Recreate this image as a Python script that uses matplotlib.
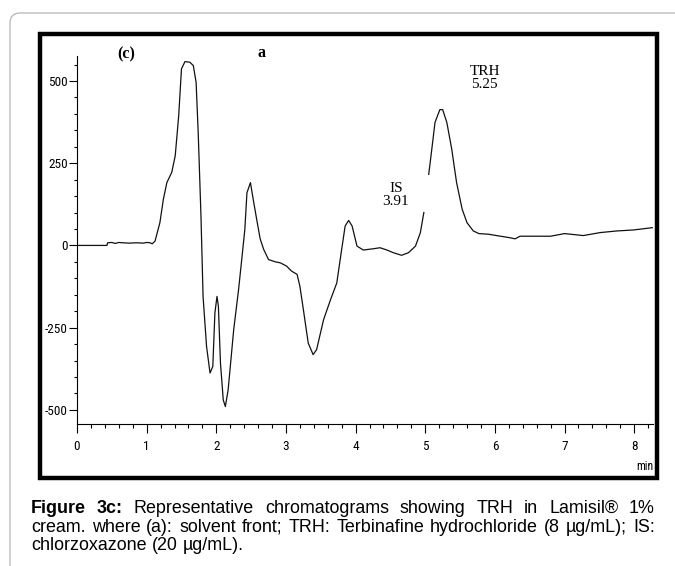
import matplotlib
matplotlib.use("Agg")
import matplotlib.pyplot as plt
import numpy as np
from matplotlib.patches import FancyBboxPatch, Rectangle
from matplotlib.transforms import IdentityTransform
from matplotlib.ticker import MultipleLocator
from matplotlib import font_manager

# chromatogram trace (min, mAU); NaN marks the break near the IS label
time_min = [0.00, 0.43, 0.44, 0.50, 0.55, 0.60, 0.66, 0.75, 0.85, 0.95, 1.00, 1.05, 1.08,
            1.12, 1.19, 1.24, 1.29, 1.36, 1.41, 1.46, 1.50, 1.55, 1.62, 1.67, 1.71, 1.74,
            1.78, 1.81, 1.86, 1.91, 1.95, 1.98, 2.01, 2.03, 2.06, 2.10, 2.13, 2.17, 2.25,
            2.32, 2.37, 2.41, 2.44, 2.49, 2.53, 2.58, 2.63, 2.68, 2.75, 2.85, 2.92, 3.01,
            3.08, 3.16, 3.20, 3.25, 3.32, 3.39, 3.44, 3.54, 3.64, 3.73, 3.80, 3.85, 3.90,
            3.95, 4.02, 4.11, 4.26, 4.35, 4.45, 4.54, 4.66, 4.76, 4.86, 4.93, 4.98, 5.01,
            5.05, 5.10, 5.14, 5.21, 5.25, 5.31, 5.38, 5.45, 5.53, 5.60, 5.69, 5.77, 5.91,
            6.08, 6.20, 6.29, 6.36, 6.56, 6.80, 7.00, 7.27, 7.51, 7.75, 7.99, 8.26]
signal = [0, 0, 8, 9, 6, 9, 8, 7, 8, 7, 9, 8, 5,
          13, 69, 140, 191, 222, 272, 394, 537, 559, 557, 547, 496, 344,
          89, -155, -307, -388, -368, -205, -155, -185, -358, -470, -490, -439, -256,
          -134, -33, 49, 160, 191, 140, 79, 20, -12, -43, -50, -53, -63,
          -78, -88, -124, -195, -297, -332, -317, -226, -165, -114, -12, 59, 76,
          59, -2, -14, -10, -7, -14, -22, -30, -22, -2, 39, 100, np.nan,
          216, 303, 374, 413, 413, 374, 293, 191, 110, 69, 44, 36, 34,
          28, 24, 20, 28, 28, 28, 36, 30, 39, 44, 47, 54]

x_ticks = [0, 1, 2, 3, 4, 5, 6, 7, 8]
y_ticks = [-500, -250, 0, 250, 500]

peak_labels = [("IS\n3.91", 4.58, 152), ("TRH\n5.25", 5.855, 509)]

caption_lines = [
    [("Figure", "bold"), ("3c:", "bold"), ("Representative", "normal"), ("chromatograms", "normal"),
     ("showing", "normal"), ("TRH", "normal"), ("in", "normal"), ("Lamisil®", "normal"), ("1%", "normal")],
    [(w, "normal") for w in "cream. where (a): solvent front; TRH: Terbinafine hydrochloride (8 µg/mL); IS:".split()],
    [(w, "normal") for w in "chlorzoxazone (20 µg/mL).".split()],
]

W, H = 675, 566
plt.rcParams["axes.unicode_minus"] = False
serif = ["Liberation Serif", "DejaVu Serif"]
sans = ["Liberation Sans", "DejaVu Sans"]

# pick a narrow sans for the tick labels if one is around
names = {f.name for f in font_manager.fontManager.ttflist}
narrow_props = dict(family=["DejaVu Sans"], stretch="condensed")
for cand in ["Liberation Sans Narrow", "Arial Narrow", "Roboto Condensed", "Open Sans Condensed"]:
    if cand in names:
        narrow_props = dict(family=[cand], stretch="normal")
        break

fig = plt.figure(figsize=(W / 100, H / 100), dpi=100)
fig.patch.set_facecolor("white")

# outer light grey page border with rounded top-left corner
border = FancyBboxPatch((10, -40), 720, H - 13 + 40, boxstyle="round,pad=0,rounding_size=10",
                        transform=IdentityTransform(), fill=False, edgecolor="#b4b4b4", linewidth=0.9)
fig.add_artist(border)
# thick black frame around the chart
frame = Rectangle((40, H - 477.5), 617, 444, transform=IdentityTransform(),
                  fill=False, edgecolor="black", linewidth=3.2)
fig.add_artist(frame)

ax = fig.add_axes([77 / W, 1 - 424 / H, (653 - 77) / W, (424 - 56) / H])
ax.plot(time_min, signal, color="#111111", linewidth=0.9)
ax.set_xlim(0, 8.27)
ax.set_ylim(-543, 576)
for s in ["top", "right"]:
    ax.spines[s].set_visible(False)
for s in ["left", "bottom"]:
    ax.spines[s].set_linewidth(0.8)

ax.set_xticks(x_ticks)
ax.set_yticks(y_ticks)
ax.xaxis.set_minor_locator(MultipleLocator(0.2))
ax.yaxis.set_minor_locator(MultipleLocator(50))
ax.tick_params(axis="x", which="major", length=6.5, width=0.8, pad=5)
ax.tick_params(axis="x", which="minor", length=3.2, width=0.8)
ax.tick_params(axis="y", which="major", length=6, width=0.8, pad=0.5)
ax.tick_params(axis="y", which="minor", length=2.5, width=0.8)
for lab in ax.get_xticklabels() + ax.get_yticklabels():
    lab.set_family(narrow_props["family"])
    lab.set_stretch(narrow_props["stretch"])
    lab.set_fontsize(9.5)

ax.text(1.00, -0.115, "min", transform=ax.transAxes, ha="right", va="center",
        fontsize=8.5, **narrow_props)

ax.text(126 / W, 1 - 54 / H, "(c)", transform=fig.transFigure, ha="center", va="center",
        family=serif, fontweight="bold", fontsize=11.5)
ax.text(262 / W, 1 - 53 / H, "a", transform=fig.transFigure, ha="center", va="center",
        family=serif, fontweight="bold", fontsize=11.5)
for txt, x, y in peak_labels:
    ax.text(x, y, txt, ha="center", va="center", family=serif, fontsize=11, linespacing=1.0)

# justified caption, word by word
fig.canvas.draw()
renderer = fig.canvas.get_renderer()
left_px, right_px = 31, 655
baselines = [513, 531.5, 550]
cap_size = 12.9
for i, words in enumerate(caption_lines):
    texts = [fig.text(0, 0, w, family=sans, fontweight=wt, fontsize=cap_size, va="baseline", ha="left")
             for w, wt in words]
    widths = [t.get_window_extent(renderer).width for t in texts]
    if i < len(caption_lines) - 1 and len(words) > 1:
        gap = (right_px - left_px - sum(widths)) / (len(words) - 1)
    else:
        gap = 0.278 * cap_size * 100 / 72
    xpos = left_px
    for t, wd in zip(texts, widths):
        t.set_position((xpos / W, 1 - baselines[i] / H))
        xpos += wd + gap

fig.savefig("out.png", dpi=100)
